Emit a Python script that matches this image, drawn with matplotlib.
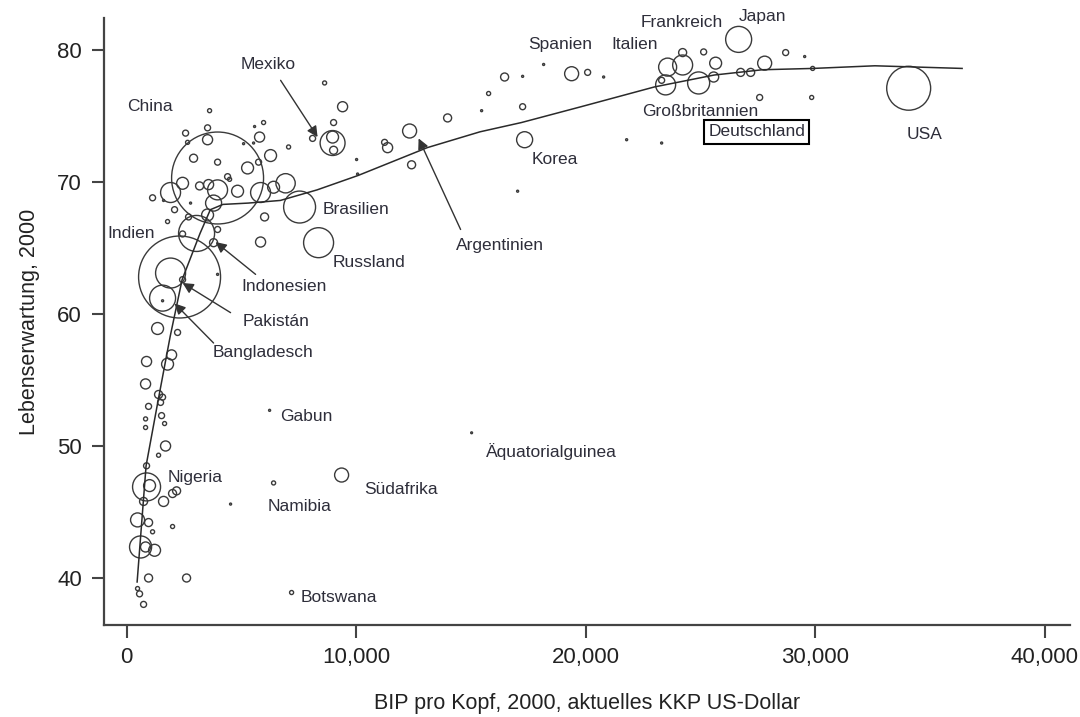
import matplotlib
matplotlib.use("Agg")
import matplotlib.pyplot as plt
import numpy as np

plt.rcParams['font.family'] = ['Liberation Sans', 'DejaVu Sans']

# ---- data: GDP per capita (PPP US$), life expectancy (years), population (millions)
gdp = [3965, 2309, 34072, 3050, 7538, 8365, 1917, 1569, 871, 26665,
       8975, 24922, 23484, 24225, 23571, 610, 19389, 17341, 12330, 9368,
       6231, 6405, 7189, 15032,
       3616, 2571, 3529, 2658, 3529, 5577, 5969, 5795, 5533, 5098,
       7058, 8104, 2919, 3965, 5272, 5751, 6274, 4401, 4488, 2440,
       1917, 3181, 3573, 3965, 4836, 1133, 3791, 5838, 6405, 6928,
       2788, 2091, 2701, 3529, 6013, 1786, 2440, 3965, 3791, 5838,
       3965, 2440, 1569, 1351, 2222, 871, 1961, 1786, 828, 1394,
       1569, 1481, 959, 1525, 828, 1656, 828, 1699, 1394, 871,
       1002, 1612, 2004, 2179, 741, 479, 959, 1133, 2004, 4531,
       828, 1220, 959, 2614, 479, 566, 741,
       8627, 9411, 9019, 8975, 9019, 10021, 10065, 11241, 11372, 12417,
       13986, 15467, 15772, 16469, 17254, 17254, 18169, 20086, 20783, 17036,
       21785, 23310, 23310, 24225, 25140, 25663, 25576, 26752, 27188, 27798,
       28713, 29541, 29889, 27580, 29846, 1612]
life_exp = [70.3, 62.8, 77.1, 66.1, 68.1, 65.4, 63.1, 61.2, 46.9, 80.8,
            72.95, 77.5, 77.35, 78.86, 78.7, 42.35, 78.2, 73.2, 73.86, 47.8,
            52.7, 47.2, 38.9, 51.0,
            75.4, 73.7, 74.1, 73.0, 73.2, 74.2, 74.5, 73.4, 72.95, 72.9,
            72.65, 73.3, 71.8, 71.5, 71.06, 71.5, 72.0, 70.4, 70.2, 69.9,
            69.2, 69.7, 69.8, 69.4, 69.3, 68.8, 68.4, 69.2, 69.6, 69.9,
            68.4, 67.9, 67.35, 67.5, 67.35, 67.0, 66.06, 66.4, 65.4, 65.45,
            63.0, 62.6, 61.0, 58.9, 58.6, 56.4, 56.9, 56.2, 54.7, 53.9,
            53.7, 53.3, 53.0, 52.3, 52.05, 51.7, 51.4, 50.0, 49.3, 48.5,
            47.0, 45.8, 46.4, 46.6, 45.8, 44.4, 44.2, 43.5, 43.9, 45.6,
            42.35, 42.1, 40.0, 40.0, 39.2, 38.8, 38.0,
            77.5, 75.7, 74.5, 73.4, 72.4, 71.7, 70.6, 73.0, 72.6, 71.3,
            74.85, 75.4, 76.7, 77.95, 78.0, 75.7, 78.9, 78.3, 77.95, 69.3,
            73.2, 72.95, 77.7, 79.8, 79.85, 79.0, 77.95, 78.3, 78.3, 79.0,
            79.8, 79.5, 78.6, 76.4, 76.4, 68.6]
population = [1252, 995, 286, 192, 151, 133, 133, 100, 116, 100,
              92, 72, 59, 59, 48, 72, 29, 38, 29, 29,
              0.6, 2.4, 2.4, 0.5,
              2.4, 5.3, 5.3, 2.4, 15, 0.6, 2.4, 15, 0.6, 0.6,
              2.4, 5.3, 9.5, 5.3, 21, 5.3, 21, 5.3, 2.4, 21,
              59, 9.5, 15, 59, 21, 5.3, 38, 59, 21, 55,
              0.6, 5.3, 5.3, 21, 9.5, 2.4, 5.3, 5.3, 9.5, 15,
              0.6, 5.3, 0.6, 21, 5.3, 15, 15, 21, 15, 9.5,
              5.3, 5.3, 5.3, 5.3, 2.4, 2.4, 2.4, 15, 2.4, 5.3,
              21, 15, 9.5, 9.5, 9.5, 29, 9.5, 2.4, 2.4, 0.6,
              15, 21, 9.5, 9.5, 2.4, 5.3, 5.3,
              2.4, 15, 5.3, 21, 9.5, 0.6, 0.6, 5.3, 15, 9.5,
              9.5, 0.6, 2.4, 9.5, 0.6, 5.3, 0.6, 5.3, 0.6, 0.6,
              0.6, 0.6, 5.3, 9.5, 5.3, 21, 15, 9.5, 9.5, 29,
              5.3, 0.6, 2.4, 5.3, 2.4, 0.6]

# fitted (smoothed) relationship
fit_gdp = [460, 850, 1380, 1900, 2420, 3200, 3650, 4200, 5300, 6700, 8300,
           10100, 13100, 15400, 17200, 19800, 23000, 25600, 27700, 29900,
           32600, 36400]
fit_le = [39.7, 48.5, 53.5, 58.3, 62.6, 66.1, 67.9, 68.3, 68.4, 68.6, 69.4,
          70.5, 72.6, 73.8, 74.5, 75.7, 77.2, 78.1, 78.5, 78.6, 78.8, 78.6]

x_ticks = [0, 10000, 20000, 30000, 40000]
x_ticklabels = ['0', '10,000', '20,000', '30,000', '40,000']
y_ticks = [40, 50, 60, 70, 80]

# country labels: text, x, y
labels = [
    ("China", 1002, 75.7), ("Mexiko", 6187, 78.86), ("Indien", 218, 66.1),
    ("Indonesien", 6840, 62.1), ("Pakistán", 6492, 59.4),
    ("Bangladesch", 5926, 57.1), ("Brasilien", 9978, 67.95),
    ("Russland", 10544, 63.9), ("Argentinien", 16252, 65.2),
    ("Korea", 18648, 71.7), ("Spanien", 18909, 80.45),
    ("Italien", 22133, 80.45), ("Frankreich", 24181, 82.1),
    ("Japan", 27711, 82.5), ("Großbritannien", 25009, 75.3),
    ("USA", 34769, 73.6), ("Gabun", 7843, 52.2), ("Nigeria", 3006, 47.65),
    ("Namibia", 7538, 45.4), ("Südafrika", 11938, 46.7),
    ("Äquatorialguinea", 18517, 49.55), ("Botswana", 9237, 38.5),
]
boxed_label = ("Deutschland", 27449, 73.8)

# arrows: (tail x, tail y) -> (head x, head y)
arrows = [
    ((6710, 77.7), (8322, 73.4)),
    ((14552, 66.4), (12722, 73.3)),
    ((5621, 63.0), (3878, 65.45)),
    ((4531, 60.1), (2440, 62.35)),
    ((3791, 57.8), (2091, 60.8)),
]

W, H = 1080, 717
fig = plt.figure(figsize=(W / 100, H / 100), dpi=100)
ax = fig.add_axes([104 / W, 1 - 625 / H, (1070 - 104) / W, (625 - 18) / H])

sizes = 3.5 * np.array(population)
ax.scatter(gdp, life_exp, s=sizes, facecolors='none', edgecolors='#3a3a3a',
           linewidths=1.0, zorder=3)
ax.plot(fit_gdp, fit_le, color='#2a2a2a', lw=1.1, zorder=4)

txt_color = '#2e2e3a'
for t, x, y in labels:
    ax.text(x, y, t, ha='center', va='center', fontsize=12.5, color=txt_color,
            zorder=5)
t, x, y = boxed_label
ax.text(x, y, t, ha='center', va='center', fontsize=12.5, color=txt_color,
        zorder=5, bbox=dict(boxstyle='square,pad=0.25', fc='white',
                            ec='black', lw=1.5))

for (tx, ty), (hx, hy) in arrows:
    ax.annotate('', xy=(hx, hy), xytext=(tx, ty),
                arrowprops=dict(arrowstyle='-|>', color='#333333', lw=1.0,
                                mutation_scale=16, shrinkA=0, shrinkB=0),
                zorder=6)

ax.set_xlim(-983, 41100)
ax.set_ylim(36.44, 82.42)
ax.set_xticks(x_ticks)
ax.set_xticklabels(x_ticklabels)
ax.set_yticks(y_ticks)

for s in ['top', 'right']:
    ax.spines[s].set_visible(False)
for s in ['left', 'bottom']:
    ax.spines[s].set_linewidth(1.6)
    ax.spines[s].set_color('#444444')
ax.tick_params(axis='both', direction='out', length=9, width=1.5,
               color='#444444', labelsize=16, labelcolor='#222222', pad=7)

ax.set_xlabel('BIP pro Kopf, 2000, aktuelles KKP US-Dollar', fontsize=15.5,
              color='#222222', labelpad=18)
ax.set_ylabel('Lebenserwartung, 2000', fontsize=15.5, color='#222222',
              labelpad=12)

fig.savefig('out.png', dpi=100)
